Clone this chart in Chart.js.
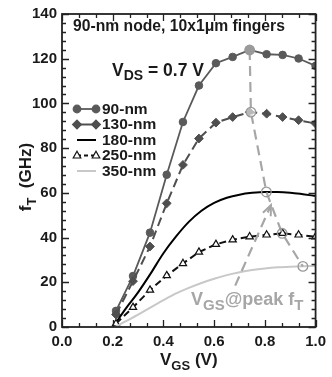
<!DOCTYPE html>
<html>
<head>
<meta charset="utf-8">
<script src="https://cdn.jsdelivr.net/npm/chart.js@4/dist/chart.umd.min.js"></script>
<style>
  html, body { margin: 0; padding: 0; background: #fff; }
  #c { display: block; }
</style>
</head>
<body>
<canvas id="c" width="332" height="377"></canvas>
<script>
// Gate bias sweep points for the measured devices (V)
const vgsMeas = [0.213, 0.28, 0.347, 0.413, 0.477, 0.54, 0.607, 0.673, 0.74, 0.807, 0.87, 0.933, 1.0];
// Fine sweep for the smooth curves (V)
const vgsFine = [0.21, 0.25, 0.3, 0.35, 0.4, 0.45, 0.5, 0.55, 0.6, 0.65, 0.7, 0.75, 0.8, 0.85, 0.9, 0.95, 1.0];

// fT in GHz per technology node
const ft90  = [7.2, 22.8, 42.2, 68.1, 91.7, 108, 118, 120.8, 123.9, 122, 121.7, 120.1, 116.8];
const ft130 = [5.6, 20.5, 36, 55.3, 72.5, 84.3, 91.4, 93.9, 96.1, 95.4, 93.9, 92.5, 91];
const ft180 = [1.5, 8, 15.5, 24, 33, 40.5, 47, 52, 55.5, 57.8, 59.2, 60, 60.4, 60.4, 60.1, 59.4, 58.6];
const ft250 = [1.5, 8.8, 16.5, 23, 28.4, 33.5, 37, 39, 40.4, 41.2, 41.9, 41.2, 40.4];
const ft350 = [0, 2.5, 5.5, 8.8, 12, 15, 17.5, 19.7, 21.6, 23.2, 24.5, 25.5, 26.2, 26.7, 27, 27.2, 27.3];

// Bias of peak fT for each node and the peak value
const peakVgs = [0.74, 0.745, 0.806, 0.868, 0.95];
const peakFt  = [123.9, 96.1, 60.4, 41.9, 27.1];

// Pointer from the caption towards the peak trajectory
const arrowVgs = [0.683, 0.824];
const arrowFt  = [18.5, 54.5];

const seriesNames = ['90-nm', '130-nm', '180-nm', '250-nm', '350-nm'];
const xTicks = [0, 0.2, 0.4, 0.6, 0.8, 1.0];
const yTicks = [0, 20, 40, 60, 80, 100, 120, 140];

const FONT = '"Liberation Sans", Arial, Helvetica, sans-serif';
const INK = '#1a1a1a';
const PEAK_GRAY = '#a6a6a6';

const pts = (xs, ys) => xs.map((x, i) => ({ x, y: ys[i] }));

const styles = [
  { color: '#5a5a5a', width: 1.8, dash: [], point: 'circle', radius: 3.8, fill: '#5a5a5a' },
  { color: '#4f4f4f', width: 2, dash: [9, 5], point: 'rectRot', radius: 4.4, fill: '#4f4f4f' },
  { color: '#000000', width: 2, dash: [], point: false, radius: 0, fill: '#000' },
  { color: '#111111', width: 2, dash: [7, 4], point: 'triangle', radius: 4.2, fill: '#ffffff' },
  { color: '#c8c8c8', width: 2, dash: [], point: false, radius: 0, fill: '#c8c8c8' }
];

const seriesData = [
  pts(vgsMeas, ft90), pts(vgsMeas, ft130), pts(vgsFine, ft180),
  pts(vgsMeas, ft250), pts(vgsFine, ft350)
];

const datasets = seriesData.map((d, i) => {
  const s = styles[i];
  return {
    label: seriesNames[i],
    data: d,
    borderColor: s.color,
    borderWidth: s.width,
    borderDash: s.dash,
    pointStyle: s.point || 'circle',
    pointRadius: s.radius,
    pointBackgroundColor: s.fill,
    pointBorderColor: s.color,
    pointBorderWidth: i === 3 ? 1.2 : 1,
    tension: s.point ? 0 : 0.35,
    cubicInterpolationMode: s.point ? 'default' : 'monotone',
    fill: false,
    order: 5 - i + 2
  };
});

datasets.push({
  label: 'peak',
  data: pts(peakVgs, peakFt),
  borderColor: PEAK_GRAY,
  borderWidth: 2.2,
  borderDash: [10, 6],
  pointStyle: 'circle',
  pointRadius: 4.8,
  pointBorderWidth: 1.3,
  pointBorderColor: '#999999',
  pointBackgroundColor: ['#9a9a9a', 'rgba(255,255,255,0.6)', 'rgba(0,0,0,0)', 'rgba(0,0,0,0)', 'rgba(0,0,0,0)'],
  fill: false,
  order: 0
});

datasets.push({
  label: 'pointer',
  data: pts(arrowVgs, arrowFt),
  borderColor: PEAK_GRAY,
  borderWidth: 2.2,
  borderDash: [10, 6],
  pointRadius: 0,
  fill: false,
  order: 1
});

// Draws a run of text pieces, some set as subscripts
function richText(ctx, parts, x, y, size, align, color, subRatio) {
  const subSize = Math.round(size * (subRatio || 0.72));
  const widths = parts.map(p => {
    ctx.font = 'bold ' + (p.sub ? subSize : size) + 'px ' + FONT;
    return ctx.measureText(p.t).width;
  });
  const total = widths.reduce((a, b) => a + b, 0);
  let cx = align === 'center' ? x - total / 2 : x;
  ctx.fillStyle = color;
  ctx.textAlign = 'left';
  ctx.textBaseline = 'alphabetic';
  parts.forEach((p, i) => {
    ctx.font = 'bold ' + (p.sub ? subSize : size) + 'px ' + FONT;
    ctx.fillText(p.t, cx, p.sub ? y + size * 0.28 : y);
    cx += widths[i];
  });
}

function legendMarker(ctx, s, x, y) {
  if (!s.point) return;
  ctx.save();
  ctx.setLineDash([]);
  ctx.fillStyle = s.fill;
  ctx.strokeStyle = s.color;
  ctx.lineWidth = 1.2;
  const r = s.radius;
  ctx.beginPath();
  if (s.point === 'circle') {
    ctx.arc(x, y, r, 0, Math.PI * 2);
  } else if (s.point === 'rectRot') {
    ctx.moveTo(x, y - r); ctx.lineTo(x + r, y); ctx.lineTo(x, y + r); ctx.lineTo(x - r, y); ctx.closePath();
  } else if (s.point === 'triangle') {
    ctx.moveTo(x, y - r); ctx.lineTo(x + r * 0.9, y + r * 0.6); ctx.lineTo(x - r * 0.9, y + r * 0.6); ctx.closePath();
  }
  ctx.fill();
  ctx.stroke();
  ctx.restore();
}

const decorations = {
  id: 'decorations',
  afterDraw(chart) {
    const ctx = chart.ctx;
    const { left, right, top, bottom } = chart.chartArea;
    const xs = chart.scales.x, ys = chart.scales.y;
    ctx.save();

    // inward tick marks on all four sides
    ctx.strokeStyle = '#222';
    ctx.lineWidth = 1.3;
    ctx.setLineDash([]);
    for (let i = 0; i <= 15; i++) {
      const px = Math.round(xs.getPixelForValue(i / 15)) + 0.5;
      const len = i % 3 === 0 ? 7 : 4;
      ctx.beginPath();
      ctx.moveTo(px, bottom); ctx.lineTo(px, bottom - len);
      ctx.moveTo(px, top); ctx.lineTo(px, top + len);
      ctx.stroke();
    }
    for (let v = 0; v <= 140; v += 4) {
      const py = Math.round(ys.getPixelForValue(v)) + 0.5;
      const len = v % 20 === 0 ? 7 : 4;
      ctx.beginPath();
      ctx.moveTo(left, py); ctx.lineTo(left + len, py);
      ctx.moveTo(right, py); ctx.lineTo(right - len, py);
      ctx.stroke();
    }
    // plot frame
    ctx.lineWidth = 1.8;
    ctx.strokeRect(left, top, right - left, bottom - top);

    // pointer arrowhead
    const tx = xs.getPixelForValue(arrowVgs[1]), ty = ys.getPixelForValue(arrowFt[1]);
    const fx = xs.getPixelForValue(arrowVgs[0]), fy = ys.getPixelForValue(arrowFt[0]);
    const ang = Math.atan2(ty - fy, tx - fx);
    ctx.strokeStyle = PEAK_GRAY;
    ctx.lineWidth = 2;
    ctx.beginPath();
    ctx.moveTo(tx - 11 * Math.cos(ang - 0.4), ty - 11 * Math.sin(ang - 0.4));
    ctx.lineTo(tx, ty);
    ctx.lineTo(tx - 11 * Math.cos(ang + 0.4), ty - 11 * Math.sin(ang + 0.4));
    ctx.stroke();

    // annotations
    richText(ctx, [{ t: '90-nm node, 10x1\u03bcm fingers' }], 73, 30.5, 15.7, 'left', INK);
    richText(ctx, [{ t: 'V' }, { t: 'DS', sub: true }, { t: ' = 0.7 V' }], 112, 75.5, 17.5, 'left', INK, 0.8);
    richText(ctx, [{ t: 'V' }, { t: 'GS', sub: true }, { t: '@peak f' }, { t: 'T', sub: true }], 191, 305, 18, 'left', PEAK_GRAY, 0.85);

    // legend
    const rows = [109, 124.5, 140, 155.5, 171];
    styles.forEach((s, i) => {
      const y = rows[i];
      ctx.save();
      ctx.strokeStyle = s.color;
      ctx.lineWidth = s.width;
      ctx.setLineDash(i === 3 ? [4, 3] : []);
      ctx.beginPath();
      ctx.moveTo(77, y); ctx.lineTo(96, y);
      ctx.stroke();
      ctx.restore();
      legendMarker(ctx, s, 77, y);
      legendMarker(ctx, s, 96, y);
      ctx.font = 'bold 15.5px ' + FONT;
      ctx.fillStyle = INK;
      ctx.textAlign = 'left';
      ctx.textBaseline = 'middle';
      ctx.fillText(seriesNames[i], 102, y + 0.5);
    });

    // axis titles
    richText(ctx, [{ t: 'V' }, { t: 'GS', sub: true }, { t: ' (V)' }], (left + right) / 2, 365, 17, 'center', INK, 0.78);
    ctx.save();
    ctx.translate(31, 177);
    ctx.rotate(-Math.PI / 2);
    richText(ctx, [{ t: 'f' }, { t: 'T', sub: true }, { t: '  (GHz)' }], 0, 0, 17, 'center', INK, 0.78);
    ctx.restore();

    ctx.restore();
  }
};

new Chart(document.getElementById('c'), {
  type: 'line',
  data: { datasets },
  options: {
    responsive: false,
    animation: false,
    events: [],
    layout: { padding: { top: 11, right: 12, left: 0, bottom: 0 } },
    plugins: { legend: { display: false }, tooltip: { enabled: false }, title: { display: false } },
    scales: {
      x: {
        type: 'linear',
        min: 0, max: 1,
        afterFit: s => { s.height = 50; },
        afterBuildTicks: s => { s.ticks = xTicks.map(v => ({ value: v })); },
        grid: { display: false, drawTicks: false },
        border: { display: false },
        ticks: {
          padding: 6,
          color: INK,
          font: { family: FONT, size: 15, weight: 'bold' },
          maxRotation: 0,
          callback: v => v.toFixed(1)
        }
      },
      y: {
        type: 'linear',
        min: 0, max: 140,
        afterFit: s => { s.width = 62; },
        afterBuildTicks: s => { s.ticks = yTicks.map(v => ({ value: v })); },
        grid: { display: false, drawTicks: false },
        border: { display: false },
        ticks: {
          padding: 5,
          color: INK,
          font: { family: FONT, size: 15, weight: 'bold' },
          callback: v => String(v)
        }
      }
    }
  },
  plugins: [decorations]
});
</script>
</body>
</html>
